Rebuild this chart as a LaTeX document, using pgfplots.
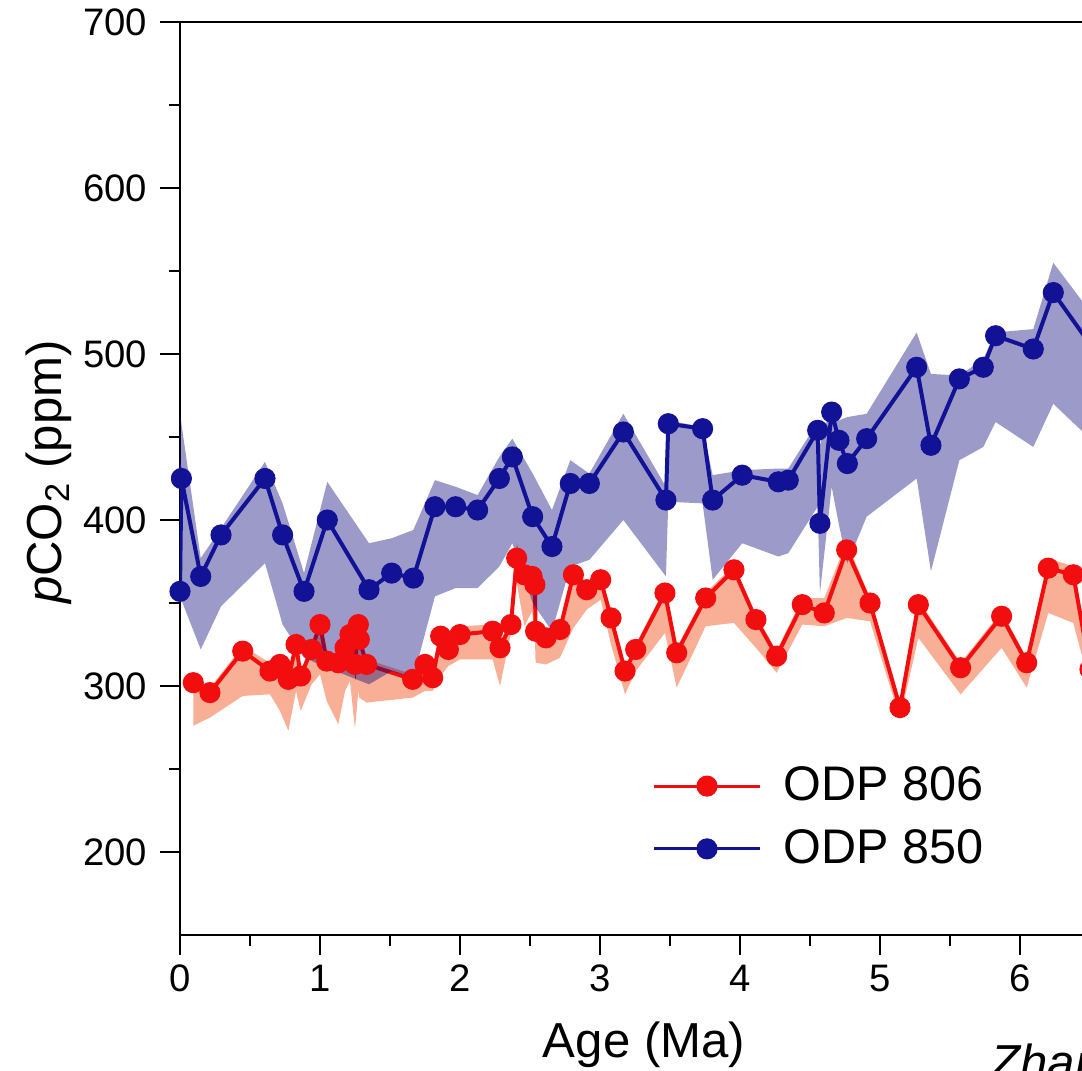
\documentclass[border=0pt]{standalone}
\usepackage{fontspec}
\setmainfont{Liberation Sans}
\usepackage{pgfplots}
\pgfplotsset{compat=1.18}
\usepackage{pgfplotstable}

\definecolor{bluel}{RGB}{18,18,150}
\definecolor{blueband}{RGB}{8,3,120}
\definecolor{redl}{RGB}{242,14,14}
\definecolor{redband}{RGB}{248,175,150}

% ODP 850 central values
\pgfplotstableread{
x y
0.000 357
0.010 425
0.148 366
0.293 391
0.607 425
0.733 391
0.886 357
1.052 400
1.350 358
1.512 368
1.667 365
1.821 408
1.969 408
2.126 406
2.281 425
2.374 438
2.519 402
2.657 384
2.788 422
2.924 422
3.167 453
3.471 412
3.488 458
3.733 455
3.805 412
4.016 427
4.274 423
4.345 424
4.555 454
4.571 398
4.655 465
4.707 448
4.767 434
4.905 449
5.262 492
5.364 445
5.567 485
5.738 492
5.826 511
6.095 503
6.238 537
6.550 500
}\tabblue

% ODP 850 uncertainty envelope (upper edge forward, lower edge back)
\pgfplotstableread{
x y
0.000 464
0.148 377
0.293 395
0.607 435
0.733 410
0.886 368
1.052 423
1.350 386
1.512 389
1.667 394
1.821 424
1.969 420
2.126 415
2.281 438
2.374 449
2.519 428
2.657 406
2.788 436
2.924 428
3.167 464
3.471 420
3.488 460
3.733 456
3.805 427
4.016 430
4.274 431
4.345 431
4.555 459
4.571 445
4.655 470
4.707 460
4.767 462
4.905 464
5.262 513
5.364 488
5.567 487
5.738 497
5.826 513
6.095 515
6.238 555
6.550 520
6.550 445
6.238 470
6.095 444
5.826 459
5.738 444
5.567 436
5.364 369
5.262 425
4.905 402
4.767 374
4.707 397
4.655 420
4.571 356
4.555 408
4.345 380
4.274 378
4.016 386
3.805 364
3.733 410
3.488 411
3.471 366
3.167 400
2.924 376
2.788 372
2.657 333
2.519 350
2.374 386
2.281 372
2.126 359
1.969 359
1.821 354
1.667 305
1.512 309
1.350 301
1.052 311
0.886 317
0.733 337
0.607 374
0.293 348
0.148 322
0.000 354
}\bandblue

% ODP 806 central values
\pgfplotstableread{
x y
0.095 302
0.214 296
0.448 321
0.643 309
0.714 313
0.774 304
0.829 325
0.862 306
0.940 322
1.000 337
1.048 315
1.131 314
1.179 323
1.214 331
1.250 313
1.274 337
1.281 328
1.333 313
1.662 304
1.750 313
1.805 305
1.862 330
1.917 322
2.000 331
2.233 333
2.286 323
2.364 337
2.405 377
2.460 367
2.515 366
2.535 361
2.540 333
2.614 329
2.714 334
2.810 367
2.905 358
3.005 364
3.079 341
3.179 309
3.255 322
3.464 356
3.548 320
3.755 353
3.957 370
4.114 340
4.262 318
4.445 349
4.602 344
4.762 382
4.929 350
5.143 287
5.274 349
5.576 311
5.869 342
6.048 314
6.202 371
6.381 367
6.500 310
}\tabred

% ODP 806 uncertainty envelope (upper edge forward, lower edge back)
\pgfplotstableread{
x y
0.095 304
0.214 299
0.448 324
0.643 314
0.714 316
0.774 306
0.829 327
0.862 309
0.940 325
1.000 339
1.048 318
1.131 317
1.179 326
1.214 334
1.250 316
1.274 339
1.281 331
1.333 316
1.662 307
1.750 316
1.805 308
1.862 333
1.917 326
2.000 336
2.233 337
2.286 327
2.364 340
2.405 386
2.460 372
2.515 368
2.535 363
2.540 336
2.614 332
2.714 338
2.810 370
2.905 361
3.005 367
3.079 344
3.179 312
3.255 325
3.464 359
3.548 323
3.755 356
3.957 373
4.114 343
4.262 321
4.445 353
4.602 353
4.762 387
4.929 353
5.143 290
5.274 352
5.576 314
5.869 345
6.048 317
6.202 377
6.381 372
6.500 318
6.500 300
6.381 338
6.202 344
6.048 299
5.869 323
5.576 295
5.274 329
5.143 280
4.929 339
4.762 341
4.602 336
4.445 337
4.262 308
4.114 323
3.957 338
3.755 336
3.548 299
3.464 332
3.255 309
3.179 295
3.079 325
3.005 352
2.905 346
2.810 335
2.714 317
2.614 313
2.540 314
2.535 330
2.515 345
2.460 336
2.405 362
2.364 332
2.286 300
2.233 316
2.000 316
1.917 312
1.862 306
1.805 297
1.750 297
1.662 293
1.333 290
1.281 293
1.274 297
1.250 274
1.214 303
1.179 297
1.131 277
1.048 291
1.000 307
0.940 301
0.862 285
0.829 297
0.774 273
0.714 285
0.643 295
0.448 294
0.214 281
0.095 276
}\bandred

\begin{document}
\begin{tikzpicture}
\begin{scope}
\clip (-63pt,-47.6pt) rectangle (315.7pt,327.25pt);
\begin{axis}[
  scale only axis, width=343pt, height=319.55pt,
  xmin=0, xmax=7, ymin=150, ymax=700,
  xtick={0,1,...,6}, minor x tick num=1,
  ytick={200,300,...,700}, minor y tick num=1,
  tick align=outside, xtick pos=lower, ytick pos=left,
  major tick length=7pt, minor tick length=4pt,
  every tick/.style={black, line width=1pt},
  axis line style={line width=1pt},
  tick label style={font=\fontsize{13.4}{16}\selectfont},
  yticklabel style={xshift=-1pt},
  /pgf/number format/assume math mode=true,
  xlabel={Age (Ma)},
  ylabel={\textit{p}CO\textsubscript{2} (ppm)},
  label style={font=\fontsize{17.2}{20}\selectfont},
  xlabel style={at={(axis description cs:0.4735,-0.1347)}, anchor=base},
  ylabel style={at={(axis description cs:-0.1204,0.507)}, anchor=base},
  legend style={draw=none, fill=none, at={(axis description cs:0.4818,0.1287)}, anchor=west,
    font=\fontsize{17}{20}\selectfont, inner xsep=0pt, inner ysep=0pt,
    nodes={inner sep=1pt}, row sep=6.6pt, column sep=6.75pt},
  legend cell align=left,
  legend image code/.code={\draw[mark repeat=2,mark phase=2,#1,line width=1pt] plot coordinates {(0pt,0pt)(18.5pt,0pt)(37pt,0pt)};},
]
\addplot[fill=redband, draw=none, forget plot] table[x=x,y=y]{\bandred} -- cycle;
\addplot[redl, line width=1.4pt, mark=*, mark size=3.5pt, mark options={solid, fill=redl, draw=redl, line width=0.4pt}] table[x=x,y=y]{\tabred};
\addlegendentry{ODP 806}
\addplot[fill=blueband, fill opacity=0.4, draw=none, forget plot] table[x=x,y=y]{\bandblue} -- cycle;
\addplot[bluel, line width=1.4pt, mark=*, mark size=3.5pt, mark options={solid, fill=bluel, draw=bluel, line width=0.4pt}] table[x=x,y=y]{\tabblue};
\addlegendentry{ODP 850}
\end{axis}
\node[anchor=north west, inner sep=0pt, font=\fontsize{17.2}{20}\selectfont\itshape] at (283.5pt,-37.8pt) {Zhang et al. (2013)};
\end{scope}
\pgfresetboundingbox
\path[use as bounding box] (-63pt,-47.6pt) rectangle (315.7pt,327.25pt);
\end{tikzpicture}
\end{document}
